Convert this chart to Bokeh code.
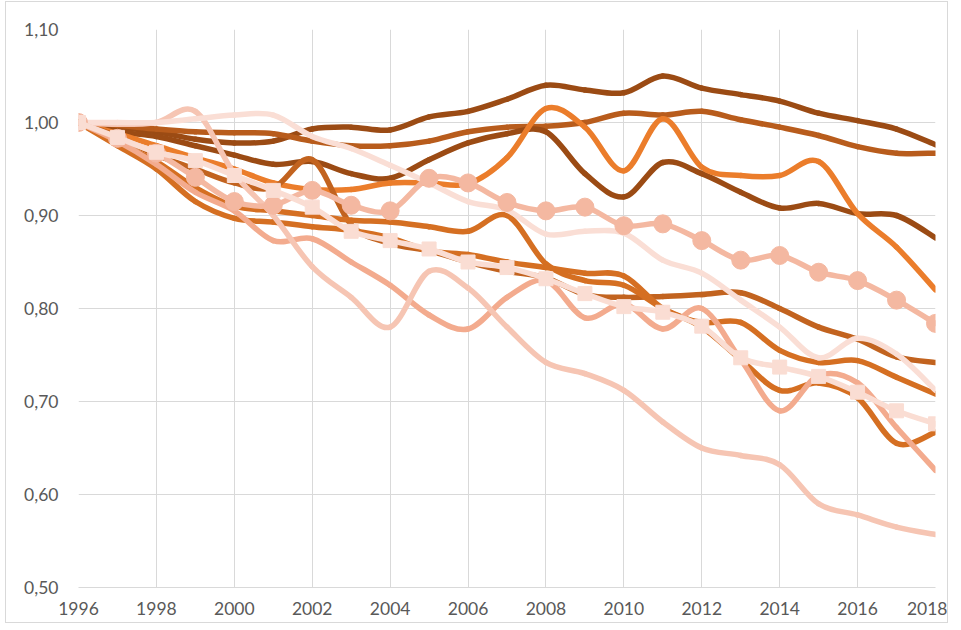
from bokeh.plotting import figure
from bokeh.models import FixedTicker, CustomJSTickFormatter, Range1d
from bokeh.embed import file_html
from bokeh.resources import INLINE

years = list(range(1996, 2019))
x_ticks = list(range(1996, 2019, 2))
y_ticks = [0.5, 0.6, 0.7, 0.8, 0.9, 1.0, 1.1]

serie_a = [1.000, 0.995, 0.990, 0.982, 0.978, 0.980, 0.993, 0.995, 0.992, 1.006, 1.012, 1.025, 1.040, 1.035, 1.032, 1.050, 1.037, 1.030, 1.023, 1.010, 1.002, 0.993, 0.976]
serie_b = [1.000, 0.990, 0.985, 0.975, 0.965, 0.955, 0.958, 0.945, 0.940, 0.960, 0.978, 0.988, 0.990, 0.945, 0.920, 0.957, 0.945, 0.925, 0.908, 0.913, 0.902, 0.900, 0.876]
serie_c = [1.000, 0.997, 0.993, 0.990, 0.989, 0.988, 0.980, 0.975, 0.975, 0.980, 0.990, 0.995, 0.996, 1.000, 1.010, 1.008, 1.012, 1.003, 0.995, 0.986, 0.974, 0.967, 0.967]
serie_d = [1.000, 0.988, 0.975, 0.962, 0.950, 0.935, 0.928, 0.928, 0.935, 0.935, 0.934, 0.962, 1.015, 0.995, 0.948, 1.004, 0.952, 0.943, 0.943, 0.958, 0.902, 0.866, 0.820]
serie_e = [1.000, 0.985, 0.965, 0.950, 0.935, 0.930, 0.960, 0.890, 0.870, 0.862, 0.850, 0.840, 0.833, 0.815, 0.812, 0.813, 0.815, 0.817, 0.800, 0.780, 0.767, 0.748, 0.742]
serie_f = [1.000, 0.978, 0.958, 0.930, 0.910, 0.905, 0.900, 0.895, 0.893, 0.888, 0.883, 0.900, 0.848, 0.830, 0.825, 0.800, 0.780, 0.745, 0.712, 0.720, 0.704, 0.655, 0.667]
serie_g = [1.000, 0.975, 0.950, 0.915, 0.897, 0.893, 0.888, 0.884, 0.876, 0.862, 0.858, 0.850, 0.844, 0.838, 0.835, 0.800, 0.785, 0.785, 0.755, 0.742, 0.744, 0.726, 0.708]
serie_s = [1.000, 0.980, 0.955, 0.925, 0.905, 0.873, 0.875, 0.850, 0.825, 0.793, 0.778, 0.812, 0.830, 0.790, 0.805, 0.778, 0.800, 0.745, 0.690, 0.728, 0.720, 0.672, 0.626]
serie_t = [1.000, 0.998, 1.000, 1.012, 0.945, 0.900, 0.845, 0.812, 0.780, 0.840, 0.822, 0.780, 0.742, 0.730, 0.712, 0.678, 0.650, 0.642, 0.632, 0.590, 0.578, 0.565, 0.557]
serie_r = [1.000, 1.000, 1.000, 1.004, 1.008, 1.008, 0.985, 0.972, 0.954, 0.935, 0.915, 0.906, 0.880, 0.883, 0.881, 0.852, 0.838, 0.809, 0.780, 0.747, 0.768, 0.751, 0.712]
serie_p = [1.000, 0.983, 0.967, 0.941, 0.915, 0.911, 0.927, 0.911, 0.905, 0.940, 0.935, 0.914, 0.905, 0.909, 0.889, 0.891, 0.873, 0.852, 0.857, 0.839, 0.830, 0.809, 0.784]
serie_q = [1.000, 0.984, 0.968, 0.959, 0.943, 0.927, 0.909, 0.883, 0.873, 0.864, 0.850, 0.844, 0.832, 0.816, 0.802, 0.796, 0.781, 0.747, 0.737, 0.727, 0.710, 0.690, 0.676]

# (values, colour, marker) in drawing order
series = [
    (serie_a, "#9B4B14", None),
    (serie_c, "#B85C1C", None),
    (serie_b, "#9B4B14", None),
    (serie_d, "#EB7D2B", None),
    (serie_e, "#C2631F", None),
    (serie_f, "#D56F22", None),
    (serie_g, "#D56F22", None),
    (serie_s, "#F3AB8E", None),
    (serie_t, "#F6C5B3", None),
    (serie_r, "#FADED5", None),
    (serie_p, "#F4B8A1", "circle"),
    (serie_q, "#FADDD3", "square"),
]

p = figure(width=943, height=622, output_backend="svg", toolbar_location=None,
           x_range=Range1d(1996, 2018), y_range=Range1d(0.5, 1.1),
           min_border_left=72, min_border_right=14, min_border_top=27, min_border_bottom=37,
           styles={"border": "1px solid #D9D9D9", "margin-left": "5px", "margin-top": "1px"})
p.outline_line_color = None
p.background_fill_color = "white"
p.border_fill_color = "white"

p.xgrid.ticker = FixedTicker(ticks=x_ticks)
p.ygrid.ticker = FixedTicker(ticks=y_ticks)
p.xgrid.grid_line_color = "#D9D9D9"
p.ygrid.grid_line_color = "#D9D9D9"
p.xgrid.grid_line_width = 1
p.ygrid.grid_line_width = 1

p.xaxis.ticker = FixedTicker(ticks=x_ticks)
p.yaxis.ticker = FixedTicker(ticks=y_ticks)
p.yaxis.formatter = CustomJSTickFormatter(code="return tick.toFixed(2).replace('.', ',');")
for ax in (p.xaxis, p.yaxis):
    ax.major_tick_line_color = None
    ax.minor_tick_line_color = None
    ax.major_tick_out = 0
    ax.major_tick_in = 0
    ax.major_label_text_font = "Lato"
    ax.major_label_text_font_size = "17.5px"
    ax.major_label_text_color = "#595959"
p.xaxis.axis_line_color = "#D9D9D9"
p.yaxis.axis_line_color = None
p.xaxis.major_label_standoff = 14
p.yaxis.major_label_standoff = 20


def smooth_segments(xs, ys):
    # Excel-style smoothed line: cubic Bezier per segment with Catmull-Rom control points
    n = len(xs)
    seg = dict(x0=[], y0=[], x1=[], y1=[], cx0=[], cy0=[], cx1=[], cy1=[])
    for i in range(n - 1):
        i0 = max(i - 1, 0)
        i3 = min(i + 2, n - 1)
        seg["x0"].append(xs[i]); seg["y0"].append(ys[i])
        seg["x1"].append(xs[i + 1]); seg["y1"].append(ys[i + 1])
        seg["cx0"].append(xs[i] + (xs[i + 1] - xs[i0]) / 6)
        seg["cy0"].append(ys[i] + (ys[i + 1] - ys[i0]) / 6)
        seg["cx1"].append(xs[i + 1] - (xs[i3] - xs[i]) / 6)
        seg["cy1"].append(ys[i + 1] - (ys[i3] - ys[i]) / 6)
    return seg


for vals, col, marker in series:
    seg = smooth_segments(years, vals)
    p.bezier(line_color=col, line_width=5.5, line_cap="round", **seg)
    if marker == "circle":
        p.scatter(years, vals, marker="circle", size=18, fill_color=col, line_color=col)
    elif marker == "square":
        p.scatter(years, vals, marker="square", size=14, fill_color=col, line_color=col)

open("out.html", "w").write(file_html(p, INLINE))
